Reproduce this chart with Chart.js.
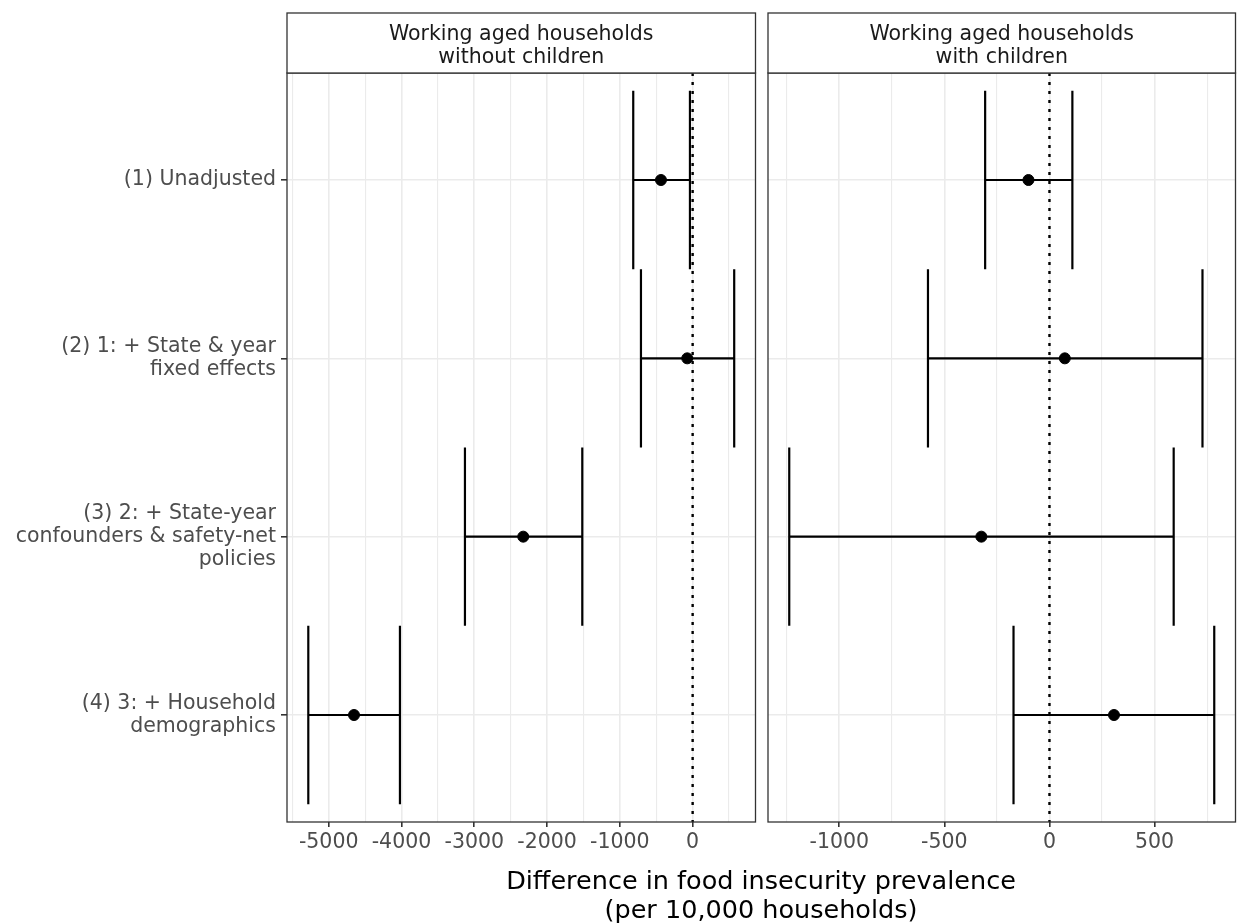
<!DOCTYPE html>
<html>
<head>
<meta charset="utf-8">
<script src="https://cdn.jsdelivr.net/npm/chart.js@4.4.1/dist/chart.umd.min.js"></script>
<style>
  html, body { margin: 0; padding: 0; background: #fff; }
  body { width: 1238px; height: 924px; position: relative; overflow: hidden; font-family: "DejaVu Sans", sans-serif; }
  canvas { position: absolute; top: 0; }
  #left { left: 0; }
  #right { left: 760px; }
  #xtitle { position: absolute; left: 261px; width: 1000px; top: 866px; text-align: center;
            font-size: 25.5px; line-height: 29px; color: #000; }
</style>
</head>
<body>
<canvas id="left" width="762" height="924"></canvas>
<canvas id="right" width="482" height="924"></canvas>
<div id="xtitle">Difference in food insecurity prevalence<br>(per 10,000 households)</div>
<script>
// model labels (y axis, top to bottom)
const models = [
    ['(1) Unadjusted'],
    ['(2) 1: + State & year', 'fixed effects'],
    ['(3) 2: + State-year', 'confounders & safety-net', 'policies'],
    ['(4) 3: + Household', 'demographics']
];

const panelTitles = [
    ['Working aged households', 'without children'],
    ['Working aged households', 'with children']
];

// estimates and 95% CI, per 10,000 households
const noKidsEst  = [-435, -74, -2327, -4652];
const noKidsLow  = [-816, -710, -3128, -5280];
const noKidsHigh = [-37, 571, -1516, -4021];

const kidsEst  = [-100, 73, -324, 307];
const kidsLow  = [-306, -578, -1238, -171];
const kidsHigh = [109, 728, 591, 784];

// x tick labels
const noKidsTicks = [-5000, -4000, -3000, -2000, -1000, 0];
const kidsTicks = [-1000, -500, 0, 500];

Chart.defaults.font.family = '"DejaVu Sans", sans-serif';

const GRID = '#ebebeb';
const DARK = '#333333';

// strip header above each panel + panel border
const facetPlugin = {
    id: 'facet',
    afterDraw(chart, args, opts) {
        const ctx = chart.ctx;
        const a = chart.chartArea;
        ctx.save();
        ctx.strokeStyle = DARK;
        ctx.lineWidth = 1.3;
        ctx.strokeRect(a.left, a.top, a.right - a.left, a.bottom - a.top);
        // strip
        ctx.fillStyle = '#fff';
        ctx.fillRect(a.left, 13, a.right - a.left, a.top - 13);
        ctx.strokeRect(a.left, 13, a.right - a.left, a.top - 13);
        ctx.fillStyle = '#1a1a1a';
        ctx.font = '20.5px "DejaVu Sans"';
        ctx.textAlign = 'center';
        ctx.textBaseline = 'alphabetic';
        const cx = (a.left + a.right) / 2;
        opts.title.forEach((line, i) => ctx.fillText(line, cx, 39.5 + i * 23));
        ctx.restore();
    }
};

function makePanel(id, title, est, low, high, majorTicks, showY, pad) {
    const lo = Math.min(...low), hi = Math.max(...high);
    const expand = (hi - lo) * 0.05;

    // error bars: horizontal line + two caps, separated by gaps
    const bars = [];
    est.forEach((e, i) => {
        const y = i + 1;
        bars.push({x: low[i], y: y}, {x: high[i], y: y}, {x: high[i], y: null});
        bars.push({x: low[i], y: y - 0.5}, {x: low[i], y: y + 0.5}, {x: low[i], y: null});
        bars.push({x: high[i], y: y - 0.5}, {x: high[i], y: y + 0.5}, {x: high[i], y: null});
    });

    const step = majorTicks[1] - majorTicks[0];

    return new Chart(document.getElementById(id), {
        type: 'scatter',
        data: {
            datasets: [{
                type: 'line',
                data: [{x: 0, y: 0.4}, {x: 0, y: 4.6}],
                borderColor: '#000',
                borderWidth: 2.4,
                borderDash: [3, 6],
                pointRadius: 0
            }, {
                type: 'line',
                data: bars,
                borderColor: '#000',
                borderWidth: 2.2,
                pointRadius: 0,
                spanGaps: false
            }, {
                data: est.map((e, i) => ({x: e, y: i + 1})),
                backgroundColor: '#000',
                borderColor: '#000',
                pointRadius: 5.5,
                pointHoverRadius: 5.5
            }]
        },
        options: {
            responsive: false,
            animation: false,
            layout: {padding: {top: 73, right: pad.right, left: pad.left, bottom: 0}},
            plugins: {
                legend: {display: false},
                tooltip: {enabled: false},
                facet: {title: title}
            },
            scales: {
                x: {
                    type: 'linear',
                    min: lo - expand,
                    max: hi + expand,
                    afterBuildTicks(scale) {
                        const t = [];
                        for (let v = majorTicks[0] - step / 2; v <= scale.max; v += step / 2) {
                            if (v >= scale.min) t.push({value: v});
                        }
                        scale.ticks = t;
                    },
                    afterFit(scale) {
                        scale.height = 102;
                        scale.paddingLeft = 0;
                        scale.paddingRight = 0;
                    },
                    border: {display: false},
                    grid: {
                        color: GRID,
                        lineWidth: (c) => majorTicks.includes(c.tick.value) ? 1.6 : 1.1,
                        tickColor: (c) => majorTicks.includes(c.tick.value) ? DARK : 'rgba(0,0,0,0)',
                        tickLength: 5,
                        tickWidth: 1.6
                    },
                    ticks: {
                        autoSkip: false,
                        maxRotation: 0,
                        padding: 3,
                        color: '#4d4d4d',
                        font: {size: 20.5},
                        callback: (v) => majorTicks.includes(v) ? String(v) : ''
                    }
                },
                y: {
                    type: 'linear',
                    min: 0.4,
                    max: 4.6,
                    reverse: true,
                    afterBuildTicks(scale) {
                        scale.ticks = models.map((m, i) => ({value: i + 1}));
                    },
                    afterFit(scale) {
                        scale.width = showY ? 287 : 0;
                        scale.paddingTop = 0;
                        scale.paddingBottom = 0;
                    },
                    border: {display: false},
                    grid: {
                        color: GRID,
                        lineWidth: 1.6,
                        drawTicks: showY,
                        tickColor: DARK,
                        tickLength: 6,
                        tickWidth: 1.6
                    },
                    ticks: {
                        display: showY,
                        autoSkip: false,
                        padding: 5,
                        color: '#4d4d4d',
                        font: {size: 20.5, lineHeight: 1.1},
                        callback: (v) => models[v - 1]
                    }
                }
            }
        },
        plugins: [facetPlugin]
    });
}

makePanel('left', panelTitles[0], noKidsEst, noKidsLow, noKidsHigh, noKidsTicks, true, {left: 0, right: 0});
makePanel('right', panelTitles[1], kidsEst, kidsLow, kidsHigh, kidsTicks, false, {left: 8, right: 0});
</script>
</body>
</html>
